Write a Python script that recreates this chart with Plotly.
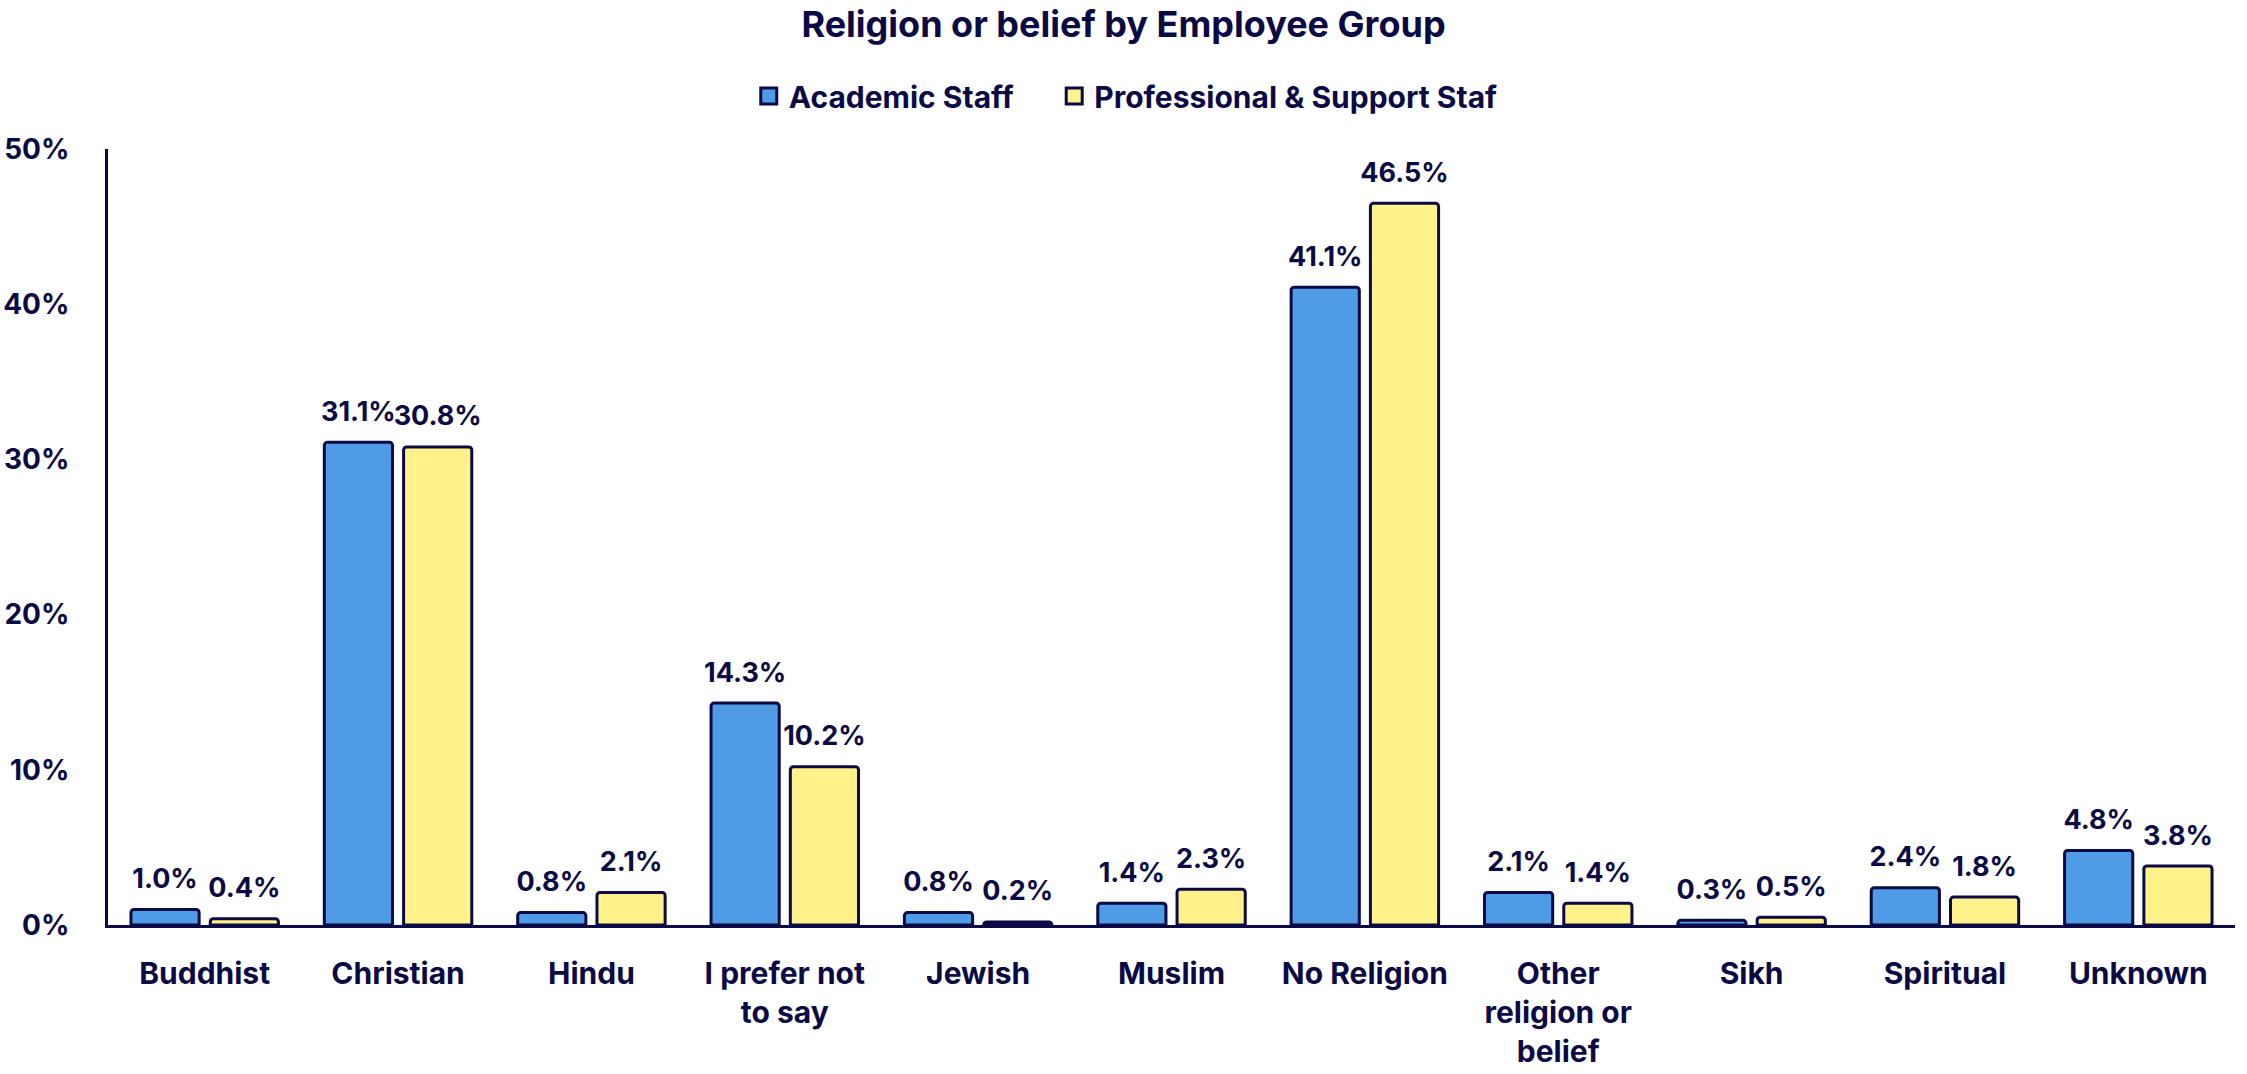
import plotly.graph_objects as go

categories = ["Buddhist", "Christian", "Hindu", "I prefer not<br>to say", "Jewish", "Muslim",
              "No Religion", "Other<br>religion or<br>belief", "Sikh", "Spiritual", "Unknown"]
academic = [1.0, 31.1, 0.8, 14.3, 0.8, 1.4, 41.1, 2.1, 0.3, 2.4, 4.8]
professional = [0.4, 30.8, 2.1, 10.2, 0.2, 2.3, 46.5, 1.4, 0.5, 1.8, 3.8]
series_names = ["Academic Staff", "Professional & Support Staf"]
y_ticks = [0, 10, 20, 30, 40, 50]
y_tick_labels = ["0%", "10%", "20%", "30%", "40%", "50%"]

NAVY = "#0b0a45"
BLUE = "#4f9be6"
YELLOW = "#fff28a"
FONT = "Inter"

fig = go.Figure()
series = [(series_names[0], academic, BLUE, "a"), (series_names[1], professional, YELLOW, "p")]
for name, vals, col, grp in series:
    fig.add_trace(go.Bar(
        x=categories, y=vals, name=name, showlegend=False,
        offsetgroup=grp, alignmentgroup="g",
        marker=dict(color=col, line=dict(color=NAVY, width=3), cornerradius=3),
        cliponaxis=False,
    ))
for name, vals, col, grp in series:
    fig.add_trace(go.Scatter(
        x=categories, y=vals, mode="markers+text", showlegend=False,
        offsetgroup=grp, alignmentgroup="g",
        marker=dict(size=22, color="rgba(0,0,0,0)"),
        text=[f"{v:.1f}%" for v in vals], textposition="top center",
        textfont=dict(family=FONT, size=27, color=NAVY, weight="bold"),
        cliponaxis=False, hoverinfo="skip",
    ))
# legend entries
legend_labels = [series_names[0] + "\u00a0" * 5, series_names[1]]
for (name, vals, col, grp), lab in zip(series, legend_labels):
    fig.add_trace(go.Scatter(
        x=[None], y=[None], mode="markers", name=lab,
        marker=dict(symbol="square", size=20, color=col, line=dict(color=NAVY, width=3)),
    ))

fig.update_layout(
    width=2247, height=1074,
    margin=dict(l=108, r=12, t=149, b=149),
    paper_bgcolor="white", plot_bgcolor="white",
    barmode="group", bargap=0.18, bargroupgap=0.14,
    scattermode="group", scattergap=0.18,
    font=dict(family=FONT, color=NAVY, weight="bold"),
    title=dict(text="<b>Religion or belief by Employee Group</b>", x=0.5, xanchor="center",
               y=1 - 24 / 1074, yanchor="middle", yref="container",
               font=dict(family=FONT, size=36, color=NAVY, weight="bold")),
    legend=dict(orientation="h", x=0.501, xanchor="center", xref="container",
                y=1 - 96 / 1074, yanchor="middle", yref="container",
                font=dict(family=FONT, size=30, color=NAVY, weight="bold"),
                itemwidth=30, traceorder="normal"),
    showlegend=True,
)
fig.update_xaxes(showline=True, linecolor=NAVY, linewidth=3, showgrid=False, automargin=False,
                 ticks="outside", ticklen=20, tickcolor="rgba(0,0,0,0)",
                 tickfont=dict(family=FONT, size=30, color=NAVY, weight="bold"))
fig.update_yaxes(range=[0, 50], showline=True, linecolor=NAVY, linewidth=3, showgrid=False,
                 zeroline=False, tickvals=y_ticks, ticktext=y_tick_labels, automargin=False,
                 ticks="outside", ticklen=30, tickcolor="rgba(0,0,0,0)",
                 tickfont=dict(family=FONT, size=28, color=NAVY, weight="bold"))

fig.write_html("out.html")
